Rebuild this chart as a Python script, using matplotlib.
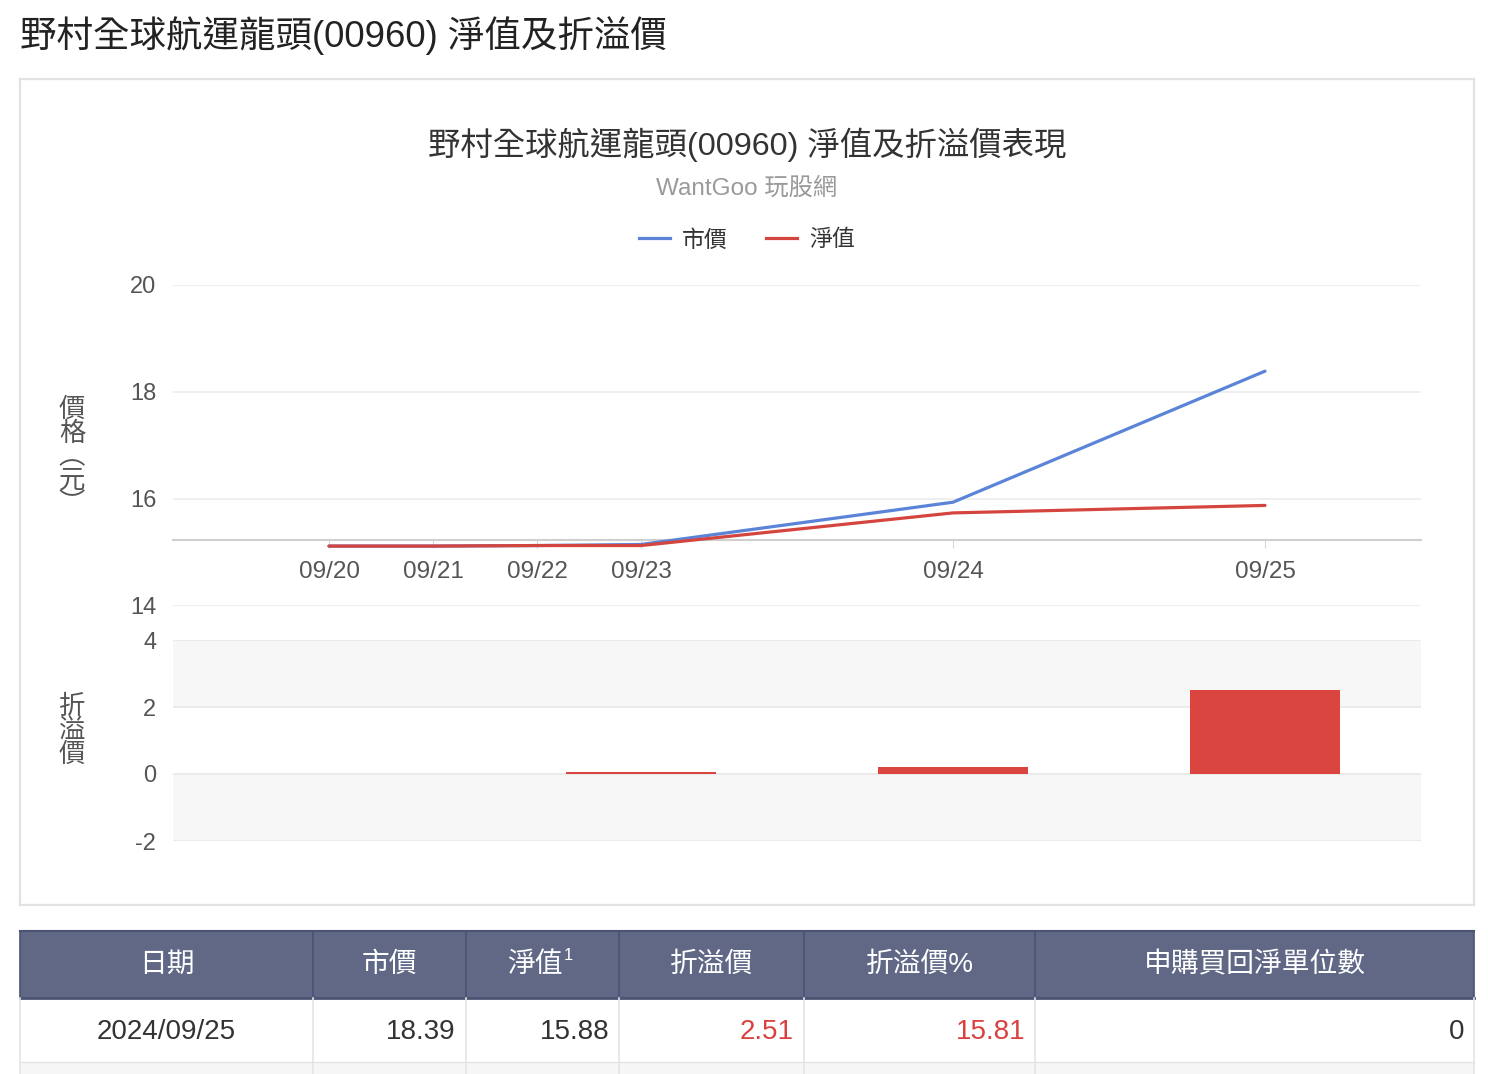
import matplotlib
matplotlib.use('Agg')
import matplotlib.pyplot as plt
from matplotlib.patches import Rectangle
from matplotlib.lines import Line2D

plt.rcParams['font.family'] = ['Liberation Sans', 'Noto Sans CJK TC']
plt.rcParams['axes.unicode_minus'] = False

# data
dates = ['09/20', '09/21', '09/22', '09/23', '09/24', '09/25']
x_slot = [0, 1, 2, 3, 6, 9]   # the site spaces the days unevenly
market = [15.12, 15.12, 15.13, 15.15, 15.94, 18.39]
nav = [15.12, 15.12, 15.13, 15.13, 15.74, 15.88]
premium = [0, 0, 0, 0.05, 0.20, 2.51]

table_cols = ['日期', '市價', '淨值', '折溢價', '折溢價%', '申購買回淨單位數']
table_sup = ['', '', '1', '', '', '']
table_row = ['2024/09/25', '18.39', '15.88', '2.51', '15.81', '0']
table_red = [False, False, False, True, True, False]

BLUE = '#5b84d8'
RED = '#d4453f'
BAR_RED = '#db4540'

W, H = 1488, 1074
fig = plt.figure(figsize=(W / 100, H / 100), dpi=100)


def box(x, y, w, h):
    return [x / W, 1 - (y + h) / H, w / W, h / H]


# page background / frame, drawn in pixel units
bg = fig.add_axes([0, 0, 1, 1])
bg.set_xlim(0, W)
bg.set_ylim(H, 0)
bg.axis('off')

bg.text(20, 36, '野村全球航運龍頭(00960) 淨值及折溢價', fontsize=26.3,
        color='#222222', va='center', ha='left')
bg.add_patch(Rectangle((20, 79), 1454, 826, facecolor='white',
                       edgecolor='#e2e2e2', lw=1.6))
bg.text(747, 145, '野村全球航運龍頭(00960) 淨值及折溢價表現', fontsize=23.3,
        color='#333333', ha='center', va='center')
bg.text(747, 189, 'WantGoo 玩股網', fontsize=17.5, color='#9a9a9a',
        ha='center', va='center')
bg.text(72, 457, '價\n格\n︵\n元\n︶', fontsize=19, color='#555555',
        ha='center', va='center', linespacing=0.98)
bg.text(72, 731, '折\n溢\n價', fontsize=19, color='#555555',
        ha='center', va='center', linespacing=0.98)

# price panel
ax1 = fig.add_axes(box(173, 285, 1248, 321))
ax1.set_facecolor('none')
ax1.plot(x_slot, market, color=BLUE, lw=2.3, solid_capstyle='round', zorder=3)
ax1.plot(x_slot, nav, color=RED, lw=2.3, solid_capstyle='round', zorder=4)
ax1.set_xlim(-1.5, 10.5)
ax1.set_ylim(14, 20)
ax1.set_yticks([14, 16, 18, 20])
ax1.grid(axis='y', color='#ececec', lw=1.2)
ax1.set_axisbelow(True)
for s in ['top', 'right', 'left']:
    ax1.spines[s].set_visible(False)
ax1.spines['bottom'].set_position(('axes', 0.205))
ax1.spines['bottom'].set_color('#cfcfcf')
ax1.spines['bottom'].set_linewidth(1.5)
ax1.set_xticks(x_slot)
ax1.set_xticklabels(dates)
ax1.tick_params(axis='x', length=6, color='#d5d5d5', pad=9,
                labelsize=17.5, labelcolor='#555555')
ax1.tick_params(axis='y', length=0, pad=12, labelsize=17, labelcolor='#555555')

leg = [Line2D([], [], color=BLUE, lw=2.3), Line2D([], [], color=RED, lw=2.3)]
fig.legend(leg, ['市價', '淨值'], loc='center', ncol=2, frameon=False,
           bbox_to_anchor=(747 / W, 1 - 240 / H), fontsize=16.5,
           handlelength=1.35, handletextpad=0.5, columnspacing=1.7,
           labelcolor='#333333')

# premium / discount panel
ax2 = fig.add_axes(box(173, 640, 1248, 201))
ax2.set_facecolor('none')
ax2.axhspan(2, 4, color='#f7f7f7', lw=0, zorder=0)
ax2.axhspan(-2, 0, color='#f7f7f7', lw=0, zorder=0)
ax2.bar(x_slot, premium, width=1.44, color=BAR_RED, lw=0, zorder=3)
ax2.set_xlim(-1.5, 10.5)
ax2.set_ylim(-2, 4)
ax2.set_yticks([-2, 0, 2, 4])
ax2.grid(axis='y', color='#e8e8e8', lw=1.2)
ax2.set_axisbelow(True)
for s in ax2.spines.values():
    s.set_visible(False)
ax2.set_xticks([])
ax2.tick_params(axis='y', length=0, pad=12, labelsize=17, labelcolor='#555555')

# table under the chart
edges = [20, 313, 466, 619, 804, 1035, 1474]
bg.add_patch(Rectangle((20, 931), 1454, 67, facecolor='#606886', lw=0))
bg.add_patch(Rectangle((20, 998), 1454, 64, facecolor='white', lw=0))
bg.add_patch(Rectangle((20, 1062), 1454, 20, facecolor='#f6f6f6', lw=0))
bg.plot([20, 1474], [931, 931], color='#4c5372', lw=1.5)
bg.plot([20, 1474], [998, 998], color='#4c5372', lw=2)
bg.plot([20, 1474], [1062, 1062], color='#e4e4e4', lw=1)
for e in edges:
    bg.plot([e, e], [931, 998], color='#4c5372', lw=1.2)
    bg.plot([e, e], [998, 1074], color='#e4e4e4', lw=1.2)

for i, name in enumerate(table_cols):
    mid = (edges[i] + edges[i + 1]) / 2
    if table_sup[i]:
        # header text plus footnote marker, centred together
        bg.text(mid + 20, 965, name, fontsize=20, color='white',
                ha='right', va='center')
        bg.text(mid + 21, 955, table_sup[i], fontsize=12, color='white',
                ha='left', va='center')
    else:
        bg.text(mid, 965, name, fontsize=20, color='white',
                ha='center', va='center')
    val_color = '#d9413f' if table_red[i] else '#333333'
    if i == 0:
        bg.text(mid, 1032, table_row[i], fontsize=20, color=val_color,
                ha='center', va='center')
    else:
        bg.text(edges[i + 1] - 10, 1032, table_row[i], fontsize=20,
                color=val_color, ha='right', va='center')

fig.savefig('out.png', dpi=100, facecolor='white')
